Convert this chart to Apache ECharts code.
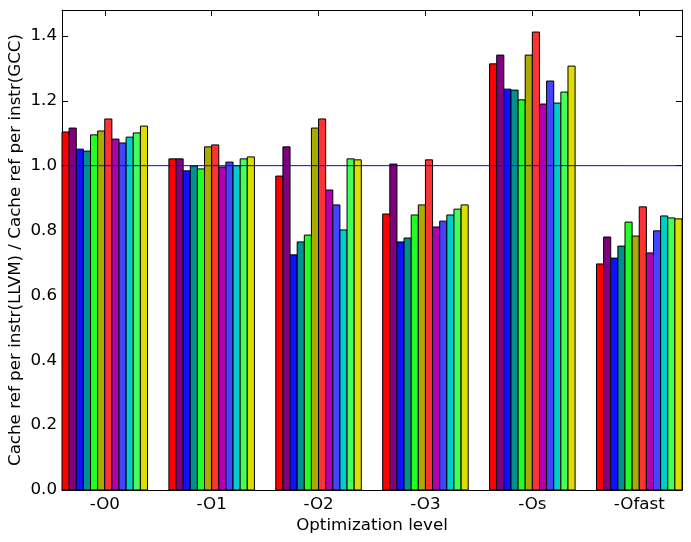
<!DOCTYPE html>
<html>
<head>
<meta charset="utf-8">
<script src="https://cdn.jsdelivr.net/npm/echarts@6/dist/echarts.min.js"></script>
<style>
  html, body { margin: 0; padding: 0; background: #fff; }
  #chart { width: 691px; height: 542px; }
</style>
</head>
<body>
<div id="chart"></div>
<script>
// optimization levels (x groups)
var levels = ['-O0', '-O1', '-O2', '-O3', '-Os', '-Ofast'];

// one array per benchmark (bar within a group), values per level
var bench1  = [1.104, 1.021, 0.968, 0.851, 1.314, 0.697];
var bench2  = [1.116, 1.021, 1.058, 1.005, 1.341, 0.780];
var bench3  = [1.051, 0.984, 0.725, 0.765, 1.236, 0.715];
var bench4  = [1.045, 0.999, 0.765, 0.777, 1.233, 0.752];
var bench5  = [1.095, 0.990, 0.786, 0.848, 1.203, 0.826];
var bench6  = [1.107, 1.058, 1.116, 0.879, 1.341, 0.783];
var bench7  = [1.144, 1.064, 1.144, 1.018, 1.412, 0.873];
var bench8  = [1.082, 0.996, 0.925, 0.811, 1.190, 0.731];
var bench9  = [1.070, 1.011, 0.879, 0.829, 1.261, 0.799];
var bench10 = [1.088, 1.000, 0.802, 0.848, 1.193, 0.845];
var bench11 = [1.101, 1.021, 1.021, 0.866, 1.227, 0.839];
var bench12 = [1.122, 1.027, 1.018, 0.879, 1.307, 0.836];

var yTicks = [0, 0.2, 0.4, 0.6, 0.8, 1.0, 1.2, 1.4];
var baseline = 1.0;   // GCC reference level

var benches = [bench1, bench2, bench3, bench4, bench5, bench6,
               bench7, bench8, bench9, bench10, bench11, bench12];
var colors = ['#ff0000', '#800080', '#1010ff', '#009090', '#22ff22', '#aaaa00',
              '#ff3333', '#b000b0', '#4444ff', '#00cccc', '#44ff55', '#dddd00'];

var groupWidth = 0.8;
var barW = groupWidth / benches.length;
var xMax = levels.length - 1 + groupWidth;
var labelPos = levels.map(function (l, i) { return i + groupWidth / 2; });

var data = [];
levels.forEach(function (l, g) {
    benches.forEach(function (b, j) {
        data.push([g + j * barW + barW / 2, b[g], g, j]);
    });
});

var myChart = echarts.init(document.getElementById('chart'));
var font = 'DejaVu Sans';
var fs = 16.7;

var option = {
    animation: false,
    textStyle: { fontFamily: font },
    grid: { left: 62, right: 9, top: 10, bottom: 52, containLabel: false, outerBoundsMode: 'none' },
    xAxis: [
        {
            type: 'value', min: 0, max: xMax, position: 'bottom',
            name: 'Optimization level', nameLocation: 'middle', nameGap: 27,
            nameMoveOverlap: false,
            nameTextStyle: { fontSize: fs, color: '#000', fontFamily: font },
            axisLine: { show: true, lineStyle: { color: '#000', width: 1 } },
            axisTick: { show: true, inside: true, length: 6, customValues: labelPos, lineStyle: { color: '#000' } },
            axisLabel: {
                customValues: labelPos, fontSize: fs, color: '#000', margin: 6,
                formatter: function (v) { return levels[Math.round(v - groupWidth / 2)]; }
            },
            splitLine: { show: false }
        },
        {
            type: 'value', min: 0, max: xMax, position: 'top',
            axisLine: { show: true, onZero: false, lineStyle: { color: '#000', width: 1 } },
            axisTick: { show: true, inside: true, length: 6, customValues: labelPos, lineStyle: { color: '#000' } },
            axisLabel: { show: false },
            splitLine: { show: false }
        }
    ],
    yAxis: [
        {
            type: 'value', min: 0, max: 1.48, position: 'left',
            name: 'Cache ref per instr(LLVM) / Cache ref per instr(GCC)',
            nameLocation: 'middle', nameGap: 38,
            nameMoveOverlap: false,
            nameTextStyle: { fontSize: fs, color: '#000', fontFamily: font },
            axisLine: { show: true, lineStyle: { color: '#000', width: 1 } },
            axisTick: { show: true, inside: true, length: 6, customValues: yTicks, lineStyle: { color: '#000' } },
            axisLabel: {
                customValues: yTicks, fontSize: fs, color: '#000', margin: 5,
                formatter: function (v) { return v.toFixed(1); }
            },
            splitLine: { show: false }
        },
        {
            type: 'value', min: 0, max: 1.48, position: 'right',
            axisLine: { show: true, onZero: false, lineStyle: { color: '#000', width: 1 } },
            axisTick: { show: true, inside: true, length: 6, customValues: yTicks, lineStyle: { color: '#000' } },
            axisLabel: { show: false },
            splitLine: { show: false }
        }
    ],
    series: [
        {
            type: 'custom',
            xAxisIndex: 0,
            yAxisIndex: 0,
            encode: { x: 0, y: 1 },
            data: data,
            renderItem: function (params, api) {
                var xc = api.value(0);
                var v = api.value(1);
                var j = api.value(3);
                var p0 = api.coord([xc - barW / 2, v]);
                var p1 = api.coord([xc + barW / 2, 0]);
                return {
                    type: 'rect',
                    shape: { x: p0[0], y: p0[1], width: p1[0] - p0[0], height: p1[1] - p0[1] },
                    style: { fill: colors[j], stroke: '#000', lineWidth: 1 }
                };
            },
            z: 2
        },
        {
            type: 'line',
            xAxisIndex: 0,
            yAxisIndex: 0,
            data: [[0, baseline], [xMax, baseline]],
            showSymbol: false,
            symbol: 'none',
            silent: true,
            lineStyle: { color: '#0000ff', width: 1 },
            z: 3
        }
    ]
};

myChart.setOption(option);
</script>
</body>
</html>
